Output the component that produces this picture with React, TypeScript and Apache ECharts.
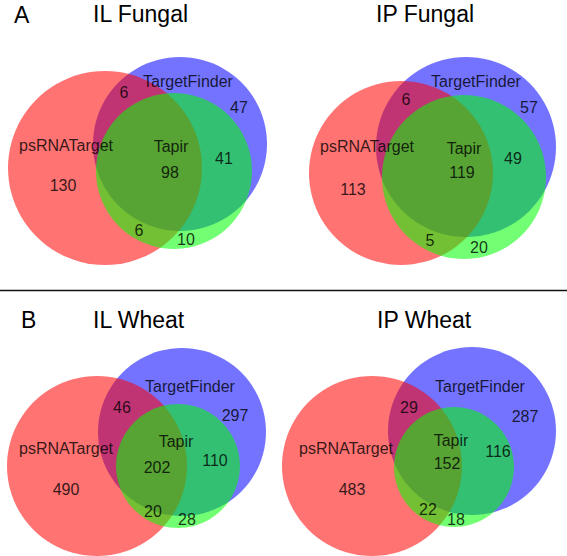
import React, { useEffect, useRef } from "react";
import * as echarts from "echarts";

// Panels and set names
const panelTitles = ["IL Fungal", "IP Fungal", "IL Wheat", "IP Wheat"];
const sectionLetters = ["A", "B"];
const setNames = ["psRNATarget", "TargetFinder", "Tapir"];

// Region counts per panel: [ps only, TF only, Tapir only, ps∩TF, ps∩Tapir, TF∩Tapir, all three]
const ilFungal = [130, 47, 10, 6, 6, 41, 98];
const ipFungal = [113, 57, 20, 6, 5, 49, 119];
const ilWheat = [490, 297, 28, 46, 20, 110, 202];
const ipWheat = [483, 287, 18, 29, 22, 116, 152];
const panelCounts = [ilFungal, ipFungal, ilWheat, ipWheat];

// Circle geometry per panel (canvas units): [cx, cy, r]
const redCircles = [[105, 168, 97], [401, 173, 92], [97, 466, 90], [372, 466, 90]];
const blueCircles = [[180, 144, 87], [466, 147, 90], [182, 432, 84], [472, 431, 84]];
const greenCircles = [[174, 171, 78], [464, 177, 82], [178, 466, 62], [454, 467, 60]];

// Label anchor positions per panel
const setLabelPos = [
  [[66, 145], [188, 81], [171, 146]],
  [[367, 146], [476, 81], [464, 148]],
  [[66, 448], [190, 386], [176, 441]],
  [[346, 448], [480, 386], [451, 440]],
];
const countPos = [
  [[63, 185], [239, 107], [186, 239], [124, 92], [139, 230], [224, 158], [170, 172]],
  [[353, 189], [529, 107], [479, 247], [406, 99], [430, 240], [513, 158], [462, 172]],
  [[66, 489], [235, 415], [187, 519], [122, 407], [153, 511], [215, 460], [157, 467]],
  [[352, 489], [525, 416], [456, 519], [409, 407], [428, 509], [498, 451], [447, 463]],
];
const titlePos = [[93, 2], [376, 2], [93, 308], [377, 308]];
const letterPos = [[14, 3], [21, 308]];

const FONT = "'Liberation Sans', Arial, Helvetica, sans-serif";

export default function App() {
  const ref = useRef<HTMLDivElement>(null);
  useEffect(() => {
    document.body.style.margin = "0";
    const chart = echarts.init(ref.current!, null, { renderer: "svg" });
    const circleSeries = (data: number[][], color: string, z: number) => ({
      type: "scatter",
      silent: true,
      clip: false,
      z,
      symbol: "circle",
      data: data.map((c) => ({ value: [c[0], c[1]], symbolSize: c[2] * 2 })),
      itemStyle: { color, opacity: 0.55 },
    });
    const labelData: any[] = [];
    setLabelPos.forEach((p) =>
      p.forEach((pt, j) => labelData.push({ value: pt, name: setNames[j] }))
    );
    countPos.forEach((p, i) =>
      p.forEach((pt, j) => labelData.push({ value: pt, name: String(panelCounts[i][j]) }))
    );
    const graphics: any[] = [];
    panelTitles.forEach((t, i) =>
      graphics.push({
        type: "text",
        x: titlePos[i][0],
        y: titlePos[i][1],
        style: { text: t, font: `23px ${FONT}`, fill: "#000" },
      })
    );
    sectionLetters.forEach((t, i) =>
      graphics.push({
        type: "text",
        x: letterPos[i][0],
        y: letterPos[i][1],
        style: { text: t, font: `23px ${FONT}`, fill: "#000" },
      })
    );
    graphics.push({
      type: "line",
      shape: { x1: 0, y1: 290.5, x2: 567, y2: 290.5 },
      style: { stroke: "#111", lineWidth: 1.5 },
    });
    chart.setOption({
      animation: false,
      backgroundColor: "#fff",
      grid: { left: 0, right: 0, top: 0, bottom: 0 },
      xAxis: { type: "value", min: 0, max: 567, show: false },
      yAxis: { type: "value", min: 0, max: 556, inverse: true, show: false },
      series: [
        circleSeries(blueCircles, "#0000ff", 1),
        circleSeries(redCircles, "#ff0000", 2),
        circleSeries(greenCircles, "#00ff00", 3),
        {
          type: "scatter",
          silent: true,
          clip: false,
          z: 10,
          symbol: "circle",
          symbolSize: 1,
          itemStyle: { color: "rgba(0,0,0,0)" },
          data: labelData,
          label: {
            show: true,
            position: "inside",
            formatter: "{b}",
            color: "#000",
            fontSize: 16,
            fontFamily: FONT,
          },
        },
      ],
      graphic: graphics,
    });
    return () => chart.dispose();
  }, []);
  return <div ref={ref} style={{ width: 567, height: 556 }} />;
}
